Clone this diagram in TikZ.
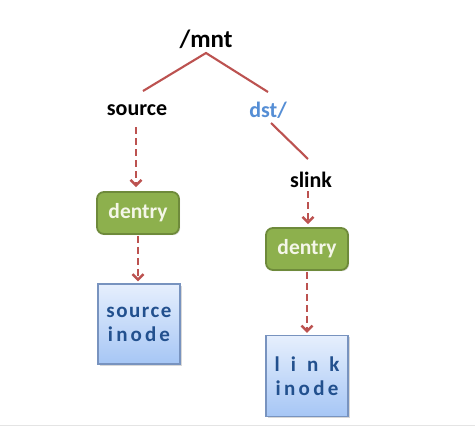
\documentclass[tikz,border=0pt]{standalone}
\usepackage{fontspec}
\setmainfont{Carlito}
\usetikzlibrary{arrows.meta,shadows}
\definecolor{linered}{HTML}{BC5250}
\definecolor{dstblue}{HTML}{558ED5}
\definecolor{dfill}{HTML}{8DB04D}
\definecolor{dborder}{HTML}{6E8A3B}
\definecolor{dtext}{HTML}{F4F6E8}
\definecolor{ifilltop}{HTML}{E6EFFD}
\definecolor{ifillbot}{HTML}{A6C6F5}
\definecolor{iborder}{HTML}{7893BF}
\definecolor{itext}{HTML}{22508E}
\definecolor{rulegray}{HTML}{E4E4E4}
\tikzset{
  label/.style={font=\bfseries\fontsize{22}{26}\selectfont, inner sep=0pt},
  tree/.style={draw=linered, line width=2.1pt},
  ptr/.style={draw=linered, line width=2.8pt, dash pattern=on 7pt off 4pt,
    -{Straight Barb[length=5.5pt,width=11pt,line width=2.4pt]}},
  dentrybox/.style={draw=dborder, fill=dfill, line width=1.8pt, rounded corners=7pt,
    minimum width=82pt, minimum height=42pt, inner sep=0pt,
    text=dtext, font=\bfseries\fontsize{21.5}{24}\selectfont,
    drop shadow={shadow xshift=1.2pt, shadow yshift=-1.2pt, opacity=0.25}},
  inodebox/.style={draw=iborder, line width=1.3pt, top color=ifilltop, bottom color=ifillbot,
    minimum width=82pt, minimum height=80pt, inner sep=0pt, align=center,
    text=itext, font=\bfseries\fontsize{21}{24}\selectfont,
    drop shadow={shadow xshift=1.5pt, shadow yshift=-1.5pt, opacity=0.3}},
}
\begin{document}
\begin{tikzpicture}[x=1pt,y=-1pt]
  \useasboundingbox[fill=white] (0,0) rectangle (475,437);
  \draw[rulegray, line width=1pt] (0,425) -- (475,425);

  \node[label, font=\bfseries\fontsize{25}{30}\selectfont] (mnt) at (206,39) {/mnt};
  \node[label] (source) at (137,110) {source};
  \node[label, text=dstblue] (dst) at (268,110) {dst/};
  \node[label] (slink) at (311,180) {slink};

  \coordinate (apex) at (206,53);
  \coordinate (lend) at (143,91);
  \coordinate (rend) at (268,92);
  \coordinate (dstend) at (271,123);
  \coordinate (slinkend) at (308,159);
  \draw[tree] (lend) -- (apex) -- (rend);
  \draw[tree] (dstend) -- (slinkend);

  \node[dentrybox] (d1) at (138,213) {dentry};
  \node[dentrybox] (d2) at (307,249) {dentry};
  \node[inodebox] (i1) at (139,324)
    {\makebox[65pt]{s\hfill o\hfill u\hfill r\hfill c\hfill e}\\
     \makebox[62pt]{i\hfill n\hfill o\hfill d\hfill e}};
  \node[inodebox, minimum height=81pt] (i2) at (307,376)
    {\makebox[65pt]{l\hfill i\hfill n\hfill k}\\
     \makebox[63pt]{i\hfill n\hfill o\hfill d\hfill e}};

  \draw[ptr] (136,127) coordinate (s0) -- (d1.north -| s0) [shorten >=4pt];
  \draw[ptr, shorten >=2pt, shorten <=1pt] (d1.south) -- (i1.north -| d1.south);
  \draw[ptr, shorten >=3pt] (slink.south -| d2.north) ++(1,3) coordinate (s1) -- (d2.north -| s1);
  \draw[ptr, shorten >=2pt, shorten <=1pt] (d2.south) -- (i2.north -| d2.south);
\end{tikzpicture}
\end{document}
